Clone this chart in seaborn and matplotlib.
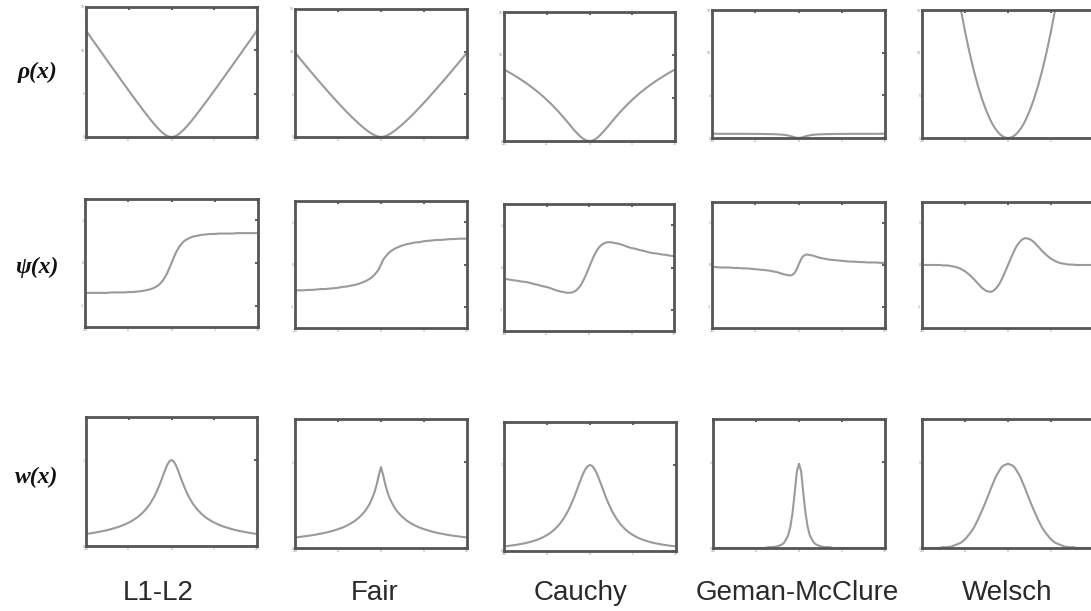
import matplotlib
matplotlib.use("Agg")
import matplotlib.pyplot as plt
import seaborn as sns

# ---------------- data ----------------
X = [-10, -9.5, -9, -8.5, -8, -7.5, -7, -6.5, -6, -5.5, -5, -4.5, -4, -3.5, -3, -2.5, -2,
     -1.75, -1.5, -1.25, -1, -0.75, -0.5, -0.25, 0, 0.25, 0.5, 0.75, 1, 1.25, 1.5, 1.75,
     2, 2.5, 3, 3.5, 4, 4.5, 5, 5.5, 6, 6.5, 7, 7.5, 8, 8.5, 9, 9.5, 10]

estimators = ["L1-L2", "Fair", "Cauchy", "Geman-McClure", "Welsch"]
row_labels = ["\u03c1(x)", "\u03c8(x)", "w(x)"]

rho_l1l2 = [12.28, 11.58, 10.88, 10.19, 9.49, 8.79, 8.10, 7.41, 6.72, 6.03, 5.35, 4.67, 4.00, 3.34, 2.69, 2.06, 1.46, 1.18, 0.92, 0.67, 0.45, 0.26, 0.12, 0.03, 0.00, 0.03, 0.12, 0.26, 0.45, 0.67, 0.92, 1.18, 1.46, 2.06, 2.69, 3.34, 4.00, 4.67, 5.35, 6.03, 6.72, 7.41, 8.10, 8.79, 9.49, 10.19, 10.88, 11.58, 12.28]
rho_fair = [9.89, 9.28, 8.67, 8.06, 7.47, 6.87, 6.29, 5.71, 5.14, 4.57, 4.02, 3.48, 2.95, 2.44, 1.96, 1.49, 1.06, 0.86, 0.67, 0.50, 0.34, 0.21, 0.10, 0.03, 0.00, 0.03, 0.10, 0.21, 0.34, 0.50, 0.67, 0.86, 1.06, 1.49, 1.96, 2.44, 2.95, 3.48, 4.02, 4.57, 5.14, 5.71, 6.29, 6.87, 7.47, 8.06, 8.67, 9.28, 9.89]
rho_cauchy = [8.31, 8.04, 7.75, 7.44, 7.13, 6.79, 6.44, 6.06, 5.67, 5.24, 4.79, 4.32, 3.81, 3.27, 2.70, 2.11, 1.51, 1.23, 0.95, 0.69, 0.46, 0.27, 0.12, 0.03, 0.00, 0.03, 0.12, 0.27, 0.46, 0.69, 0.95, 1.23, 1.51, 2.11, 2.70, 3.27, 3.81, 4.32, 4.79, 5.24, 5.67, 6.06, 6.44, 6.79, 7.13, 7.44, 7.75, 8.04, 8.31]
rho_gm = [0.50, 0.50, 0.49, 0.49, 0.49, 0.49, 0.49, 0.49, 0.49, 0.48, 0.48, 0.48, 0.47, 0.46, 0.45, 0.43, 0.40, 0.38, 0.35, 0.30, 0.25, 0.18, 0.10, 0.03, 0.00, 0.03, 0.10, 0.18, 0.25, 0.30, 0.35, 0.38, 0.40, 0.43, 0.45, 0.46, 0.47, 0.48, 0.48, 0.48, 0.49, 0.49, 0.49, 0.49, 0.49, 0.49, 0.49, 0.50, 0.50]
rho_welsch = [50.00, 45.13, 40.50, 36.13, 32.00, 28.13, 24.50, 21.13, 18.00, 15.13, 12.50, 10.13, 8.00, 6.13, 4.50, 3.13, 2.00, 1.53, 1.13, 0.78, 0.50, 0.28, 0.13, 0.03, 0.00, 0.03, 0.13, 0.28, 0.50, 0.78, 1.13, 1.53, 2.00, 3.13, 4.50, 6.13, 8.00, 10.13, 12.50, 15.13, 18.00, 21.13, 24.50, 28.13, 32.00, 36.13, 40.50, 45.13, 50.00]

psi_l1l2 = [-0.70, -0.70, -0.70, -0.70, -0.70, -0.70, -0.69, -0.69, -0.69, -0.69, -0.68, -0.68, -0.67, -0.66, -0.64, -0.62, -0.58, -0.55, -0.52, -0.47, -0.41, -0.33, -0.24, -0.12, 0.00, 0.12, 0.24, 0.33, 0.41, 0.47, 0.52, 0.55, 0.58, 0.62, 0.64, 0.66, 0.67, 0.68, 0.68, 0.69, 0.69, 0.69, 0.69, 0.70, 0.70, 0.70, 0.70, 0.70, 0.70]
psi_fair = [-0.61, -0.61, -0.61, -0.60, -0.60, -0.59, -0.58, -0.58, -0.57, -0.56, -0.55, -0.53, -0.52, -0.50, -0.48, -0.45, -0.41, -0.39, -0.36, -0.33, -0.29, -0.24, -0.18, -0.11, 0.00, 0.11, 0.18, 0.24, 0.29, 0.33, 0.36, 0.39, 0.41, 0.45, 0.48, 0.50, 0.52, 0.53, 0.55, 0.56, 0.57, 0.58, 0.58, 0.59, 0.60, 0.60, 0.61, 0.61, 0.61]
psi_cauchy = [-0.27, -0.28, -0.30, -0.31, -0.33, -0.34, -0.36, -0.39, -0.41, -0.44, -0.46, -0.49, -0.53, -0.56, -0.58, -0.60, -0.59, -0.57, -0.54, -0.49, -0.43, -0.34, -0.24, -0.12, 0.00, 0.12, 0.24, 0.34, 0.43, 0.49, 0.54, 0.57, 0.59, 0.60, 0.58, 0.56, 0.53, 0.49, 0.46, 0.44, 0.41, 0.39, 0.36, 0.34, 0.33, 0.31, 0.30, 0.28, 0.27]
psi_gm = [-0.05, -0.05, -0.06, -0.06, -0.06, -0.07, -0.07, -0.08, -0.08, -0.09, -0.10, -0.11, -0.12, -0.13, -0.15, -0.17, -0.20, -0.22, -0.23, -0.24, -0.25, -0.24, -0.20, -0.12, 0.00, 0.12, 0.20, 0.24, 0.25, 0.24, 0.23, 0.22, 0.20, 0.17, 0.15, 0.13, 0.12, 0.11, 0.10, 0.09, 0.08, 0.08, 0.07, 0.07, 0.06, 0.06, 0.06, 0.05, 0.05]
psi_welsch = [0.00, 0.00, 0.00, 0.00, 0.00, -0.01, -0.01, -0.03, -0.05, -0.09, -0.15, -0.23, -0.33, -0.44, -0.55, -0.62, -0.64, -0.62, -0.58, -0.52, -0.45, -0.35, -0.24, -0.12, 0.00, 0.12, 0.24, 0.35, 0.45, 0.52, 0.58, 0.62, 0.64, 0.62, 0.55, 0.44, 0.33, 0.23, 0.15, 0.09, 0.05, 0.03, 0.01, 0.01, 0.00, 0.00, 0.00, 0.00, 0.00]

w_l1l2 = [0.140, 0.147, 0.155, 0.164, 0.174, 0.185, 0.198, 0.213, 0.229, 0.249, 0.272, 0.300, 0.333, 0.375, 0.426, 0.492, 0.577, 0.629, 0.686, 0.749, 0.816, 0.883, 0.943, 0.985, 1.000, 0.985, 0.943, 0.883, 0.816, 0.749, 0.686, 0.629, 0.577, 0.492, 0.426, 0.375, 0.333, 0.300, 0.272, 0.249, 0.229, 0.213, 0.198, 0.185, 0.174, 0.164, 0.155, 0.147, 0.140]
w_fair = [0.123, 0.128, 0.135, 0.141, 0.149, 0.157, 0.167, 0.177, 0.189, 0.203, 0.219, 0.237, 0.259, 0.286, 0.318, 0.359, 0.412, 0.444, 0.483, 0.528, 0.583, 0.651, 0.737, 0.848, 0.940, 0.848, 0.737, 0.651, 0.583, 0.528, 0.483, 0.444, 0.412, 0.359, 0.318, 0.286, 0.259, 0.237, 0.219, 0.203, 0.189, 0.177, 0.167, 0.157, 0.149, 0.141, 0.135, 0.128, 0.123]
w_cauchy = [0.054, 0.059, 0.066, 0.073, 0.082, 0.092, 0.104, 0.119, 0.136, 0.158, 0.185, 0.219, 0.262, 0.317, 0.387, 0.476, 0.587, 0.650, 0.717, 0.785, 0.850, 0.910, 0.958, 0.989, 1.000, 0.989, 0.958, 0.910, 0.850, 0.785, 0.717, 0.650, 0.587, 0.476, 0.387, 0.317, 0.262, 0.219, 0.185, 0.158, 0.136, 0.119, 0.104, 0.092, 0.082, 0.073, 0.066, 0.059, 0.054]
w_gm = [0.00, 0.00, 0.00, 0.00, 0.00, 0.00, 0.00, 0.00, 0.00, 0.00, 0.00, 0.00, 0.00, 0.01, 0.01, 0.02, 0.04, 0.06, 0.10, 0.15, 0.25, 0.41, 0.64, 0.89, 0.98, 0.89, 0.64, 0.41, 0.25, 0.15, 0.10, 0.06, 0.04, 0.02, 0.01, 0.01, 0.00, 0.00, 0.00, 0.00, 0.00, 0.00, 0.00, 0.00, 0.00, 0.00, 0.00, 0.00, 0.00]
w_welsch = [0.00, 0.00, 0.00, 0.00, 0.00, 0.01, 0.01, 0.02, 0.04, 0.06, 0.10, 0.16, 0.23, 0.33, 0.44, 0.56, 0.69, 0.75, 0.81, 0.86, 0.90, 0.94, 0.96, 0.97, 0.98, 0.97, 0.96, 0.94, 0.90, 0.86, 0.81, 0.75, 0.69, 0.56, 0.44, 0.33, 0.23, 0.16, 0.10, 0.06, 0.04, 0.02, 0.01, 0.01, 0.00, 0.00, 0.00, 0.00, 0.00]

rows = [
    [rho_l1l2, rho_fair, rho_cauchy, rho_gm, rho_welsch],
    [psi_l1l2, psi_fair, psi_cauchy, psi_gm, psi_welsch],
    [w_l1l2, w_fair, w_cauchy, w_gm, w_welsch],
]
row_ylims = [(0, 15), (-1.5, 1.5), (0, 1.5)]
row_yticks = [[0, 5, 10, 15], [-1, 0, 1], [0, 1]]
x_ticks = [-10, -5, 0, 5, 10]

# ---------------- layout (pixel boxes: left, top, right, bottom) ----------------
W, H = 1091, 611
boxes = [
    [(86, 7, 257, 137), (295, 9, 467, 137), (504, 12, 675, 141), (712, 10, 885, 138), (922, 10, 1094, 138)],
    [(85, 199, 258, 327), (295, 201, 467, 328), (504, 204, 674, 331), (712, 202, 885, 328), (922, 202, 1094, 328)],
    [(86, 417, 257, 546), (295, 419, 467, 548), (504, 422, 676, 551), (713, 419, 885, 548), (922, 419, 1094, 548)],
]
row_label_pos = [(37, 72), (37, 267), (37, 477)]
col_label_x = [158, 375, 581, 797, 1007]
col_label_y = 593

sns.set_theme(style="white")
plt.rcParams["font.family"] = ["Liberation Sans", "DejaVu Sans"]

fig = plt.figure(figsize=(W / 100, H / 100), dpi=100)
fig.patch.set_facecolor("white")

line_color = "#9a9a9a"
frame_color = "#555555"

for r in range(3):
    for c in range(5):
        l, t, rr, b = boxes[r][c]
        ax = fig.add_axes([l / W, 1 - b / H, (rr - l) / W, (b - t) / H])
        sns.lineplot(x=X, y=rows[r][c], ax=ax, color=line_color, linewidth=1.5,
                     sort=False, estimator=None)
        ax.set_xlim(-10, 10)
        ax.set_ylim(*row_ylims[r])
        ax.set_xticks(x_ticks)
        ax.set_yticks(row_yticks[r])
        xl = [str(v) for v in x_ticks]
        if c == 4:
            xl[-1] = ""  # the right edge of the last column is cut off in the reference
        ax.set_xticklabels(xl)
        ax.set_yticklabels([str(v) for v in row_yticks[r]])
        ax.tick_params(direction="in", length=2.5, width=1.2, color="#444444",
                       top=True, right=True, labelsize=2.5, labelcolor="#888888", pad=1)
        ax.set_xlabel("")
        ax.set_ylabel("")
        ax.set_facecolor("white")
        for s in ax.spines.values():
            s.set_visible(True)
            s.set_color(frame_color)
            s.set_linewidth(2.0)

for lab, (px, py) in zip(row_labels, row_label_pos):
    fig.text(px / W, 1 - py / H, lab, ha="center", va="center", fontsize=17,
             family=["Liberation Serif", "DejaVu Serif"], style="italic",
             weight="bold", color="#111111")

for name, px in zip(estimators, col_label_x):
    fig.text(px / W, 1 - col_label_y / H, name, ha="center", va="center",
             fontsize=20, color="#2a2a2a", family=["Liberation Sans", "DejaVu Sans"])

fig.savefig("out.png", dpi=100, facecolor="white")
